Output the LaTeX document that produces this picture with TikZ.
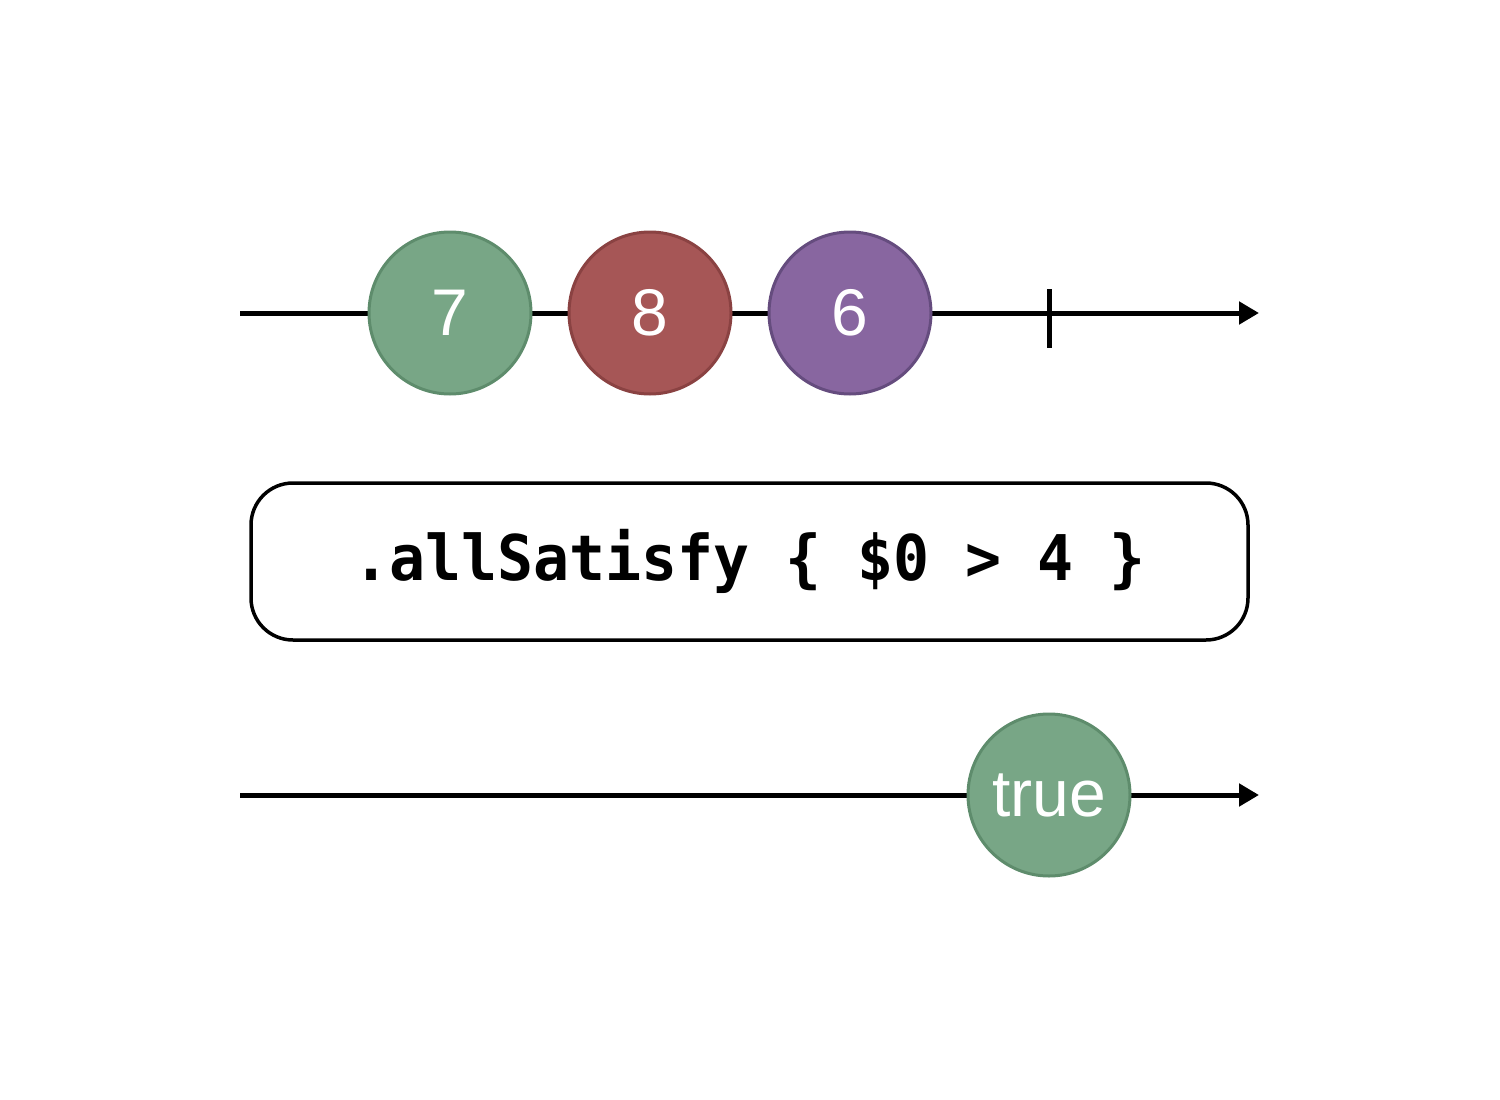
\documentclass[tikz,border=0pt]{standalone}
\usepackage{fontspec}
\setmainfont{Liberation Sans}
\newfontfamily\codefont{DejaVu Sans Mono}
\usetikzlibrary{arrows.meta}
\definecolor{gfill}{HTML}{78A686}
\definecolor{gdraw}{HTML}{5E8C6C}
\definecolor{rfill}{HTML}{A65656}
\definecolor{rdraw}{HTML}{8A4242}
\definecolor{pfill}{HTML}{8866A0}
\definecolor{pdraw}{HTML}{654C7E}
\tikzset{
  timeline/.style={line width=5pt, -{Triangle[length=20pt,width=22pt]}},
  marble/.style={circle, minimum size=162pt, inner sep=0pt, line width=3pt,
    text=white, font=\fontsize{66}{66}\selectfont},
  opbox/.style={rounded corners=42pt, draw=black, line width=3.5pt, fill=white,
    minimum width=997pt, minimum height=157pt, inner sep=0pt,
    font=\codefont\bfseries\fontsize{63}{63}\selectfont}
}
\begin{document}
\begin{tikzpicture}[x=1pt,y=-1pt]
\useasboundingbox (0,0) rectangle (1500,1100);
% top timeline
\coordinate (t0) at (240,313);
\coordinate (t1) at (1259,313);
\draw[timeline] (t0) -- (t1);
\node[marble, fill=gfill, draw=gdraw] (m7) at (450,313) {7};
\node[marble, fill=rfill, draw=rdraw] (m8) at (650,313) {8};
\node[marble, fill=pfill, draw=pdraw] (m6) at (850,313) {6};
\coordinate (c1) at (1049,289);
\coordinate (c2) at (1049,348);
\draw[line width=5pt] (c1) -- (c2);
% operator
\node[opbox] (op) at (749.5,561.5) {\scalebox{0.95}[1]{.allSatisfy \{ \$0 > 4 \}}};
% bottom timeline
\coordinate (b0) at (240,795);
\coordinate (b1) at (1259,795);
\draw[timeline] (b0) -- (b1);
\node[marble, fill=gfill, draw=gdraw] (mt) at (1049,795) {true};
\end{tikzpicture}
\end{document}
